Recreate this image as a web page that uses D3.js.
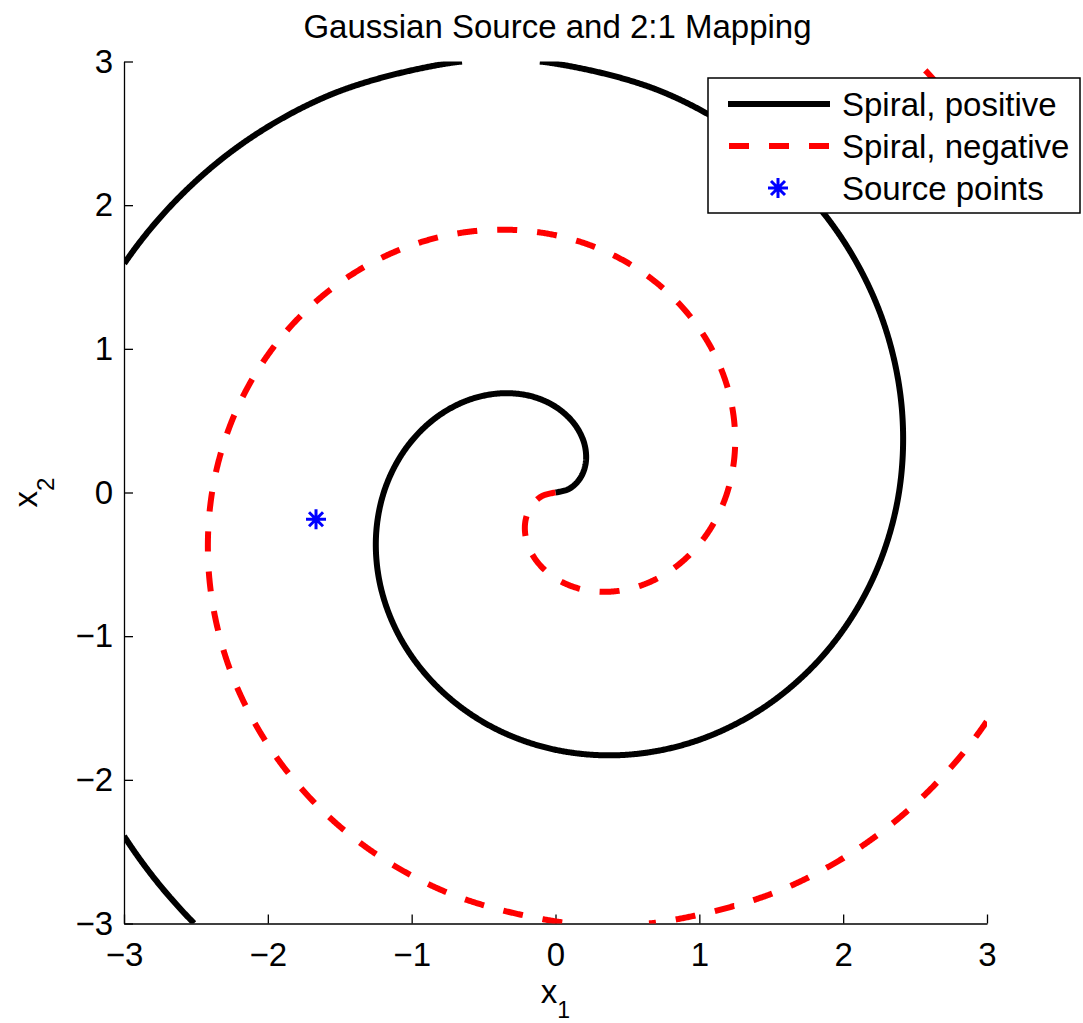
<!DOCTYPE html>
<html>
<head>
<meta charset="utf-8">
<script src="https://cdn.jsdelivr.net/npm/d3@7"></script>
<style>
  html, body { margin: 0; padding: 0; background: #fff; }
  svg { display: block; }
  text { font-family: "Liberation Sans", Arial, Helvetica, sans-serif; fill: #000; }
</style>
</head>
<body>
<svg id="chart" width="1083" height="1023"></svg>
<script>
// Axis limits and ticks
const xDomain = [-3, 3];
const yDomain = [-3, 3];
const xTicks = [-3, -2, -1, 0, 1, 2, 3];
const yTicks = [-3, -2, -1, 0, 1, 2, 3];

// Positive branch of the spiral, sampled every 15 degrees from the origin
// (plus the top of the second turn)
const spiralPositive = [
  [0, 0], [0.096, 0.026], [0.172, 0.100], [0.211, 0.211], [0.199, 0.345],
  [0.129, 0.480], [0, 0.597], [-0.180, 0.673], [-0.398, 0.689], [-0.633, 0.633],
  [-0.862, 0.497], [-1.057, 0.283], [-1.194, 0], [-1.249, -0.335], [-1.206, -0.696],
  [-1.055, -1.055], [-0.796, -1.378], [-0.438, -1.634], [0, -1.791], [0.489, -1.826],
  [0.995, -1.723], [1.477, -1.477], [1.895, -1.094], [2.210, -0.592], [2.388, 0],
  [2.402, 0.644], [2.240, 1.293], [1.899, 1.899], [1.393, 2.412], [0.747, 2.787],
  [0, 2.985], [-0.396, 3.010], [-0.798, 2.979], [-1.592, 2.757], [-2.321, 2.321],
  [-2.929, 1.691], [-3.363, 0.901], [-3.581, 0], [-3.555, -0.953], [-3.274, -1.890],
  [-2.743, -2.743], [-1.990, -3.446], [-1.056, -3.940]
];

// Negative branch of the spiral (same sampling, opposite side)
const spiralNegative = [
  [0, 0], [-0.096, -0.026], [-0.172, -0.100], [-0.211, -0.211], [-0.199, -0.345],
  [-0.129, -0.480], [0, -0.597], [0.180, -0.673], [0.398, -0.689], [0.633, -0.633],
  [0.862, -0.497], [1.057, -0.283], [1.194, 0], [1.249, 0.335], [1.206, 0.696],
  [1.055, 1.055], [0.796, 1.378], [0.438, 1.634], [0, 1.791], [-0.489, 1.826],
  [-0.995, 1.723], [-1.477, 1.477], [-1.895, 1.094], [-2.210, 0.592], [-2.388, 0],
  [-2.402, -0.644], [-2.240, -1.293], [-1.899, -1.899], [-1.393, -2.412], [-0.747, -2.787],
  [0, -2.985], [0.396, -3.010], [0.798, -2.979], [1.592, -2.757], [2.321, -2.321],
  [2.929, -1.691], [3.363, -0.901], [3.581, 0], [3.555, 0.953], [3.274, 1.890],
  [2.743, 2.743], [1.990, 3.446], [1.056, 3.940]
];

// Gaussian source sample
const sourcePoints = [[-1.665, -0.186]];

const legendLabels = ["Spiral, positive", "Spiral, negative", "Source points"];
const titleText = "Gaussian Source and 2:1 Mapping";

// Layout
const plot = { left: 124, right: 987, top: 61.5, bottom: 923.5 };
const fontSize = 33;
const fontFamily = '"Liberation Sans", Arial, Helvetica, sans-serif';

const svg = d3.select("#chart");

const x = d3.scaleLinear().domain(xDomain).range([plot.left, plot.right]);
const y = d3.scaleLinear().domain(yDomain).range([plot.bottom, plot.top]);

// Clip region for the data
svg.append("defs").append("clipPath").attr("id", "plot-clip")
  .append("rect")
  .attr("x", plot.left).attr("y", plot.top)
  .attr("width", plot.right - plot.left)
  .attr("height", plot.bottom - plot.top);

// Axes (left and bottom only, ticks pointing inward)
const fmt = d3.format("d");
const xAxis = d3.axisBottom(x).tickValues(xTicks).tickFormat(fmt)
  .tickSizeInner(-9).tickSizeOuter(0).tickPadding(19);
const yAxis = d3.axisLeft(y).tickValues(yTicks).tickFormat(fmt)
  .tickSizeInner(-9).tickSizeOuter(0).tickPadding(11);

const gx = svg.append("g").attr("transform", `translate(0,${plot.bottom})`).call(xAxis);
const gy = svg.append("g").attr("transform", `translate(${plot.left},0)`).call(yAxis);
[gx, gy].forEach(g => {
  g.selectAll("path.domain").attr("stroke", "#000").attr("stroke-width", 1.3);
  g.selectAll(".tick line").attr("stroke", "#000").attr("stroke-width", 1.3);
  g.selectAll(".tick text")
    .style("font-family", fontFamily)
    .style("font-size", fontSize + "px").attr("fill", "#000");
});

// Spiral curves: smooth through the samples, then keep only the runs whose
// centre line lies inside the axes box (the parts beyond the limits are cut).
const line = d3.line()
  .x(d => x(d[0]))
  .y(d => y(d[1]))
  .curve(d3.curveCatmullRom.alpha(0.5));
const pixelLine = d3.line();

function insideRuns(data) {
  const probe = svg.append("path").attr("d", line(data)).attr("fill", "none");
  const node = probe.node();
  const total = node.getTotalLength();
  const runs = [];
  let cur = null;
  for (let s = 0; s <= total + 0.5; s += 1) {
    const p = node.getPointAtLength(Math.min(s, total));
    const inside = p.x >= plot.left - 0.01 && p.x <= plot.right + 0.01 &&
                   p.y >= plot.top - 0.01 && p.y <= plot.bottom + 0.01;
    if (inside) {
      if (!cur) { cur = { offset: s, pts: [] }; runs.push(cur); }
      cur.pts.push([p.x, p.y]);
    } else {
      cur = null;
    }
  }
  probe.remove();
  return runs.filter(r => r.pts.length > 1);
}

const dataLayer = svg.append("g").attr("clip-path", "url(#plot-clip)");

function drawSpiral(data, color, dashed) {
  dataLayer.append("g").selectAll("path")
    .data(insideRuns(data))
    .join("path")
    .attr("d", r => pixelLine(r.pts))
    .attr("fill", "none")
    .attr("stroke", color)
    .attr("stroke-width", 6)
    .attr("stroke-linejoin", "round")
    .attr("stroke-dasharray", dashed ? "20,20" : null)
    .attr("stroke-dashoffset", r => dashed ? -r.offset : null);
}

drawSpiral(spiralPositive, "#000", false);
drawSpiral(spiralNegative, "#ff0000", true);

// Asterisk marker
const asterisk = "M-10,0H10M0,-10V10M-7,-7L7,7M-7,7L7,-7";

dataLayer.selectAll("path.source")
  .data(sourcePoints)
  .join("path")
  .attr("class", "source")
  .attr("transform", d => `translate(${x(d[0])},${y(d[1])})`)
  .attr("d", asterisk)
  .attr("fill", "none")
  .attr("stroke", "#0000ff")
  .attr("stroke-width", 3);

// Title
svg.append("text")
  .attr("x", (plot.left + plot.right) / 2 + 2)
  .attr("y", 38)
  .attr("text-anchor", "middle")
  .style("font-size", fontSize + "px")
  .text(titleText);

// Axis labels with subscripts
const xl = svg.append("text")
  .attr("x", (plot.left + plot.right) / 2)
  .attr("y", 1003)
  .attr("text-anchor", "middle")
  .style("font-size", fontSize + "px");
xl.append("tspan").text("x");
xl.append("tspan").attr("dy", 15).style("font-size", "23px").text("1");

const yl = svg.append("text")
  .attr("transform", `translate(37,${(plot.top + plot.bottom) / 2}) rotate(-90)`)
  .attr("text-anchor", "middle")
  .style("font-size", fontSize + "px");
yl.append("tspan").text("x");
yl.append("tspan").attr("dy", 17).style("font-size", "24px").text("2");

// Legend
const legend = svg.append("g");
legend.append("rect")
  .attr("x", 708).attr("y", 78)
  .attr("width", 372).attr("height", 135)
  .attr("fill", "#fff")
  .attr("stroke", "#000")
  .attr("stroke-width", 1.5);

const rowY = [104, 146, 188];
const rows = legend.selectAll("g.row")
  .data(legendLabels)
  .join("g")
  .attr("class", "row")
  .attr("transform", (d, i) => `translate(0,${rowY[i]})`);

rows.append("text")
  .attr("x", 842)
  .attr("y", 12)
  .style("font-size", fontSize + "px")
  .text(d => d);

rows.filter((d, i) => i === 0).append("line")
  .attr("x1", 728).attr("x2", 830).attr("y1", 0).attr("y2", 0)
  .attr("stroke", "#000").attr("stroke-width", 6);

rows.filter((d, i) => i === 1).append("line")
  .attr("x1", 729).attr("x2", 830).attr("y1", 0).attr("y2", 0)
  .attr("stroke", "#ff0000").attr("stroke-width", 6)
  .attr("stroke-dasharray", "20,20");

rows.filter((d, i) => i === 2).append("path")
  .attr("transform", "translate(778,0)")
  .attr("d", asterisk)
  .attr("fill", "none")
  .attr("stroke", "#0000ff")
  .attr("stroke-width", 3);
</script>
</body>
</html>
